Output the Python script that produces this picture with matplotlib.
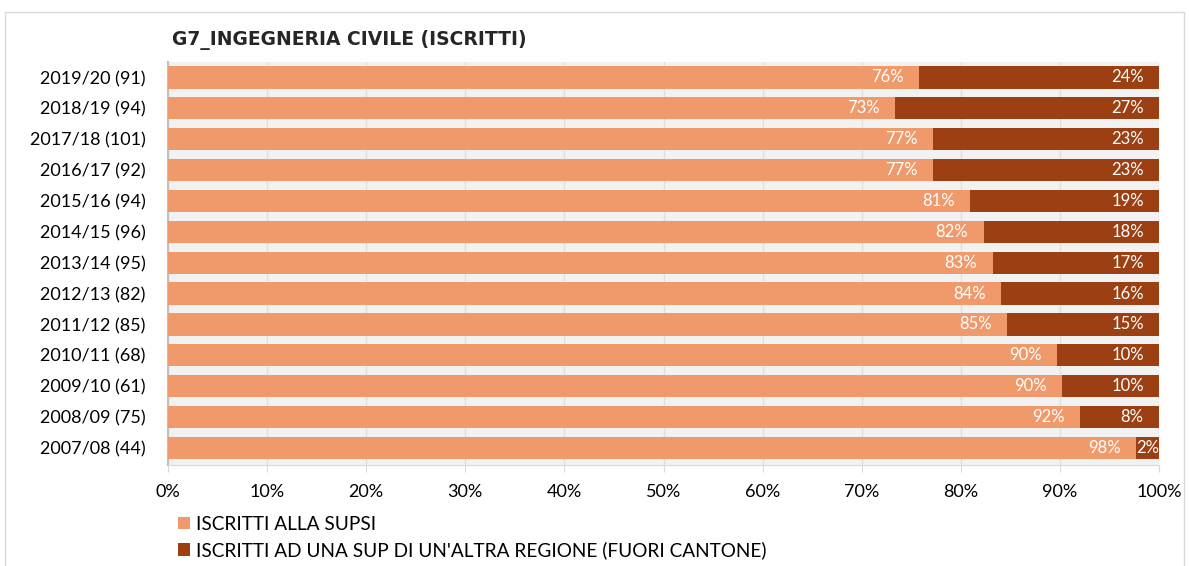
# -*- coding: utf-8 -*-

import numpy as np
import matplotlib
matplotlib.use("Agg")
import matplotlib.pyplot as plt
from matplotlib.patches import Rectangle

plt.rcParams['font.family'] = ['Lato', 'DejaVu Sans']

years = ["2019/20 (91)", "2018/19 (94)", "2017/18 (101)", "2016/17 (92)",
         "2015/16 (94)", "2014/15 (96)", "2013/14 (95)", "2012/13 (82)",
         "2011/12 (85)", "2010/11 (68)", "2009/10 (61)", "2008/09 (75)",
         "2007/08 (44)"]
supsi = [75.8, 73.4, 77.2, 77.2, 80.9, 82.3, 83.2, 84.1, 84.7, 89.7, 90.2, 92.0, 97.7]
fuori = [100 - v for v in supsi]
series_names = ["ISCRITTI ALLA SUPSI",
                "ISCRITTI AD UNA SUP DI UN'ALTRA REGIONE (FUORI CANTONE)"]
title = "G7_INGEGNERIA CIVILE (ISCRITTI)"

light = "#F0996B"
dark = "#9C4013"

fig = plt.figure(figsize=(11.89, 5.66), dpi=100)
ax = fig.add_axes([168 / 1189, 1 - 465 / 566, (1159 - 168) / 1189, (465 - 62) / 566])

# cornice esterna grigia
fig.patches.append(Rectangle((5 / 1189, -0.1), 1179 / 1189, 1.1 - 12 / 566,
                             transform=fig.transFigure, fill=False,
                             edgecolor="#d9d9d9", linewidth=1))

y = np.arange(len(years))
h = 0.72
b1 = ax.barh(y, supsi, h, color=light, label=series_names[0], zorder=3)
b2 = ax.barh(y, fuori, h, left=supsi, color=dark, label=series_names[1], zorder=3)

for i in range(len(years)):
    ax.annotate("%d%%" % round(supsi[i]), (supsi[i], y[i]), xytext=(-11, 0),
                textcoords="offset points", ha="right", va="center",
                color="white", fontsize=12, zorder=4)
    if fuori[i] < 5:
        ax.annotate("%d%%" % round(fuori[i]), (supsi[i], y[i]), xytext=(0, 0),
                    textcoords="offset points", ha="left", va="center",
                    color="white", fontsize=12, zorder=4)
    else:
        ax.annotate("%d%%" % round(fuori[i]), (100, y[i]), xytext=(-11, 0),
                    textcoords="offset points", ha="right", va="center",
                    color="white", fontsize=12, zorder=4)

ax.set_xlim(0, 100)
ax.set_ylim(len(years) - 0.45, -0.5)
ax.set_yticks(y)
ax.set_yticklabels(years, fontsize=13)
ax.set_xticks(np.arange(0, 101, 10))
ax.set_xticklabels(["%d%%" % v for v in range(0, 101, 10)], fontsize=13)

ax.set_facecolor("#f2f2f2")
ax.grid(axis="x", color="#e0e0e0", linewidth=1, zorder=0)
ax.tick_params(axis="y", length=0, pad=16)
ax.tick_params(axis="x", length=5, color="#d9d9d9", pad=9)
for s in ["top", "right"]:
    ax.spines[s].set_visible(False)
ax.spines["left"].set_color("#bfbfbf")
ax.spines["left"].set_linewidth(1.5)
ax.spines["bottom"].set_color("#d9d9d9")

fig.text(172 / 1189, 1 - 40 / 566, title, fontsize=13.5, fontweight="bold",
         family=["DejaVu Sans"], color="#262626", va="center", ha="left")

fig.legend(handles=[b1, b2], loc="upper left",
           bbox_to_anchor=(170 / 1189, 1 - 508 / 566), frameon=False,
           fontsize=13.7, handlelength=0.65, handleheight=0.65,
           handletextpad=0.3, labelspacing=0.45, borderaxespad=0)

plt.savefig("out.png", dpi=100)
